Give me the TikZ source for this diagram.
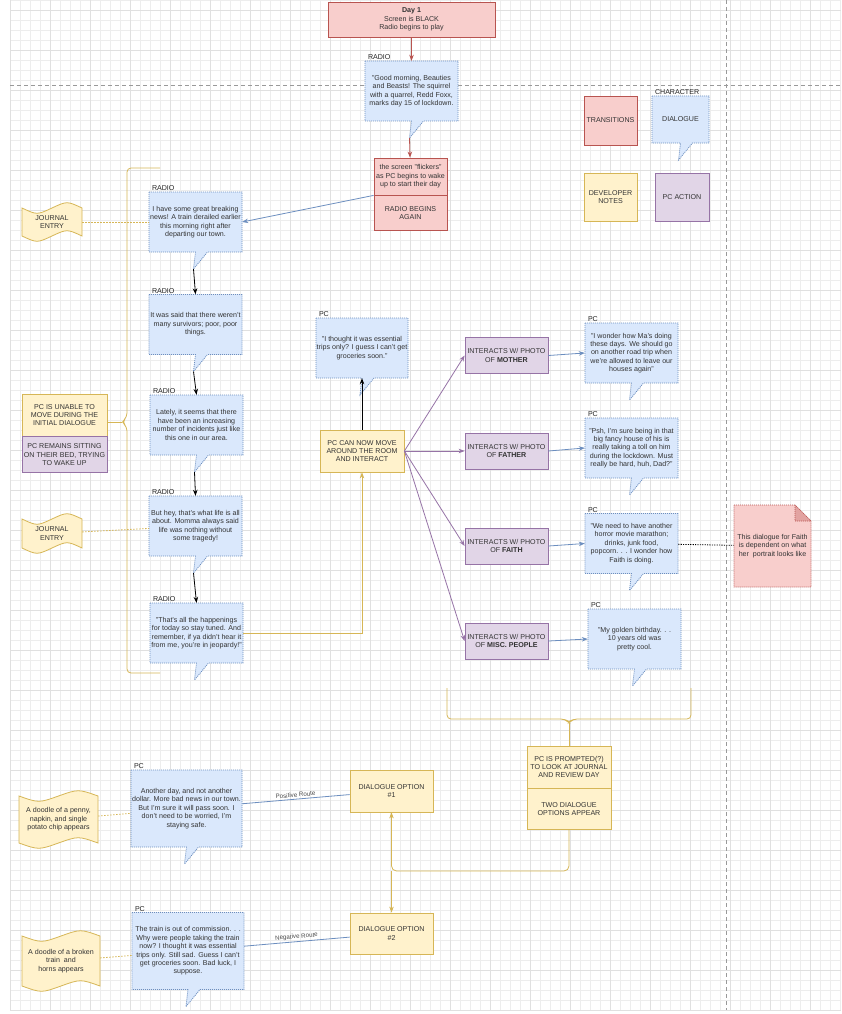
\documentclass[tikz,border=0pt]{standalone}
\usepackage{fontspec}
\setmainfont{Liberation Sans}
\usetikzlibrary{arrows.meta,calc}

\definecolor{redfill}{HTML}{F8CECC}
\definecolor{redline}{HTML}{B85450}
\definecolor{bluefill}{HTML}{DAE8FC}
\definecolor{blueline}{HTML}{6C8EBF}
\definecolor{yelfill}{HTML}{FFF2CC}
\definecolor{yelline}{HTML}{D6B656}
\definecolor{purfill}{HTML}{E1D5E7}
\definecolor{purline}{HTML}{9673A6}

\newcommand{\sm}{\fontsize{7.1}{8.4}\selectfont}

\tikzset{
  words/.style={font=\sm, align=center, inner sep=0pt, text=black!80},
  box/.style={words, draw, line width=0.8pt},
  trans/.style={box, fill=redfill, draw=redline},
  dev/.style={box, fill=yelfill, draw=yelline},
  act/.style={box, fill=purfill, draw=purline, minimum width=83, minimum height=36},
  bubble/.style={fill=bluefill, draw=blueline, line width=0.8pt, dash pattern=on 1pt off 1pt},
  sticky/.style={fill=yelfill, draw=yelline, line width=0.8pt},
  who/.style={font=\sm, anchor=south west, inner sep=1pt, xshift=2pt, text=black!85},
  tip/.style={-{Stealth[length=6pt,width=4.5pt]}},
  redarrow/.style={tip, draw=redline, line width=0.8pt},
  bluearrow/.style={tip, draw=blueline, line width=0.8pt},
  blackarrow/.style={tip, draw=black, line width=0.8pt},
  purarrow/.style={tip, draw=purline, line width=0.8pt},
  yelarrow/.style={tip, draw=yelline, line width=0.8pt},
  yelwire/.style={draw=yelline, line width=0.8pt},
  yeldash/.style={draw=yelline, line width=0.8pt, dash pattern=on 1.5pt off 1.5pt},
  route/.style={font=\fontsize{6.2}{7}\selectfont, text=black!70, inner sep=1.5pt},
  fine/.style={draw=black!7, line width=0.4pt},
  coarse/.style={draw=black!12, line width=0.4pt},
  pagebreak/.style={draw=black!40, line width=0.6pt, dash pattern=on 4pt off 3pt}
}

% speech bubble: name, cx, cy, w, h, speaker, text
\newcommand{\talk}[7]{%
  \filldraw[bubble] ({#2-#4/2},{#3-#5/2}) -- ({#2+#4/2},{#3-#5/2}) -- ({#2+#4/2},{#3+#5/2})
    -- ({#2+12},{#3+#5/2}) -- ({#2-2},{#3+#5/2+17}) -- ({#2},{#3+#5/2}) -- ({#2-#4/2},{#3+#5/2}) -- cycle;
  \node[words, minimum width=#4, minimum height=#5] (#1) at (#2,#3) {#7};
  \coordinate (#1-tip) at ({#2-2},{#3+#5/2+17});
  \node[who] at (#1.north west) {#6};
}

% wavy tape: name, left x, top y, w, h, text
\newcommand{\tape}[6]{%
  \filldraw[sticky] (#2,{#3+4}) .. controls ({#2+#4/4},{#3+11}) .. ({#2+#4/2},{#3+4})
    .. controls ({#2+3*#4/4},{#3-3}) .. ({#2+#4},{#3+4}) -- ({#2+#4},{#3+#5-4})
    .. controls ({#2+3*#4/4},{#3+#5-11}) .. ({#2+#4/2},{#3+#5-4})
    .. controls ({#2+#4/4},{#3+#5+3}) .. (#2,{#3+#5-4}) -- cycle;
  \node[words, minimum width=#4, minimum height=#5-8] (#1) at ({#2+#4/2},{#3+#5/2}) {#6};
}

\begin{document}
\begin{tikzpicture}[x=1pt,y=-1pt]
\useasboundingbox (0,0) rectangle (841,1014);
\fill[white] (0,0) rectangle (841,1014);

% grid paper
\foreach \gx in {10,20,...,840} \draw[fine] (\gx,0) -- (\gx,1010);
\foreach \gy in {0,10,...,1010} \draw[fine] (10,\gy) -- (841,\gy);
\foreach \gx in {10,50,...,810} \draw[coarse] (\gx,0) -- (\gx,1010);
\foreach \gy in {10,50,...,1010} \draw[coarse] (10,\gy) -- (841,\gy);
\draw[pagebreak] (10,85) -- (841,85);
\draw[pagebreak] (726,0) -- (726,1010);

% legend
\node[trans, minimum width=53, minimum height=49] (legtrans) at (610.5,120.5) {TRANSITIONS};
\talk{legtalk}{680.5}{119.5}{57}{47}{CHARACTER}{DIALOGUE}
\node[dev, minimum width=53, minimum height=48] (legdev) at (610.5,197) {DEVELOPER\\NOTES};
\node[act, minimum width=54, minimum height=48] (legact) at (682,197) {PC ACTION};

% opening
\node[trans, minimum width=167, minimum height=35] (day) at (411.5,19.5)
  {\textbf{Day 1}\\Screen is BLACK\\Radio begins to play};
\talk{rad0}{411.5}{91}{93}{60}{RADIO}{"Good morning, Beauties\\and Beasts! The squirrel\\with a quarrel, Redd Foxx,\\marks day 15 of lockdown.}
\node[trans, minimum width=73, minimum height=37] (wake) at (410.5,176.5)
  {the screen "flickers"\\as PC begins to wake\\up to start their day};
\node[trans, minimum width=73, minimum height=35, anchor=north] (again) at (wake.south) {RADIO BEGINS\\AGAIN};
\draw[redarrow] (day) -- (rad0);
\draw[redarrow] (rad0-tip) -- (wake);

% radio column
\talk{rad1}{195.5}{222}{93}{60}{RADIO}{I have some great breaking\\news! A train derailed earlier\\this morning right after\\departing our town.}
\talk{rad2}{195.5}{324.5}{93}{60}{RADIO}{It was said that there weren't\\many survivors; poor, poor\\things.}
\talk{rad3}{196.5}{425}{93}{60}{RADIO}{Lately, it seems that there\\have been an increasing\\number of incidents just like\\this one in our area.}
\talk{rad4}{195.5}{526}{93}{60}{RADIO}{But hey, that's what life is all\\about. Momma always said\\life was nothing without\\some tragedy!}
\talk{rad5}{196.5}{633}{93}{60}{RADIO}{"That's all the happenings\\for today so stay tuned. And\\remember, if ya didn't hear it\\from me, you're in jeopardy!"}
\draw[bluearrow] (wake.south west) -- (rad1.east);
\foreach \a/\b in {rad1/rad2, rad2/rad3, rad3/rad4, rad4/rad5}
  \draw[blackarrow] (\a-tip) -- (\b.north);

\tape{journal1}{22}{204}{60}{36}{JOURNAL\\ENTRY}
\tape{journal2}{22}{515}{60}{37}{JOURNAL\\ENTRY}
\draw[yeldash] (journal1) -- (rad1);
\draw[yeldash] (journal2) -- (rad4);

\node[dev, minimum width=85, minimum height=42] (unable) at (64.5,415) {PC IS UNABLE TO\\MOVE DURING THE\\INITIAL DIALOGUE};
\node[act, minimum width=85, minimum height=36, anchor=north] (sitting) at (unable.south) {PC REMAINS SITTING\\ON THEIR BED, TRYING\\TO WAKE UP};
\draw[yelwire, rounded corners=4] (160,168) -- (127,168) -- (127,417) -- (122,422) -- (127,427) -- (127,673) -- (160,673);
\coordinate (brace1) at (122,422);
\draw[yelwire] (brace1) -- (brace1 -| unable.east);

% room
\talk{pcq}{362}{348}{92}{60}{PC}{"I thought it was essential\\trips only? I guess I can't get\\groceries soon."}
\node[dev, minimum width=84, minimum height=42] (move) at (362,451) {PC CAN NOW MOVE\\AROUND THE ROOM\\AND INTERACT};
\draw[blackarrow] (move.north) -- (pcq.south);
\draw[yelarrow] (rad5.east) -| (move.south);

\foreach \nm/\yy/\lbl in {mother/355.5/MOTHER, father/451/FATHER, faith/546/FAITH, misc/641/MISC. PEOPLE}{
  \node[act] (\nm) at (506.5,\yy) {INTERACTS W/ PHOTO\\OF \textbf{\lbl}};
  \draw[purarrow] (move.east) -- (\nm.west);
}
\talk{pcmother}{631.5}{353}{93}{60}{PC}{"I wonder how Ma's doing\\these days. We should go\\on another road trip when\\we're allowed to leave our\\houses again"}
\talk{pcfather}{631.5}{448}{93}{60}{PC}{"Psh, I'm sure being in that\\big fancy house of his is\\really taking a toll on him\\during the lockdown. Must\\really be hard, huh, Dad?"}
\talk{pcfaith}{631.5}{543.5}{93}{60}{PC}{"We need to have another\\horror movie marathon;\\drinks, junk food,\\popcorn. . . I wonder how\\Faith is doing.}
\talk{pcmisc}{634.5}{639}{93}{60}{PC}{"My golden birthday. . .\\10 years old was\\pretty cool.}
\foreach \nm in {mother, father, faith, misc}
  \draw[bluearrow] (\nm.east) -- (pc\nm.west);

% note on faith
\filldraw[fill=redfill, draw=redline, line width=0.6pt, dash pattern=on 1pt off 1pt]
  (734,505) -- (795,505) -- (811,521) -- (811,587) -- (734,587) -- cycle;
\filldraw[fill=redline!35!redfill, draw=redline, line width=0.6pt, dash pattern=on 1pt off 1pt]
  (795,505) -- (795,521) -- (811,521) -- cycle;
\node[words, minimum width=77, minimum height=82] (note) at (772.5,546)
  {This dialogue for Faith\\is dependent on what\\her\ \ portrait looks like};
\draw[black, line width=0.8pt, dash pattern=on 1.2pt off 1.2pt] (pcfaith) -- (note);

% end of day
\draw[yelwire, rounded corners=4] (447,688) -- (447,719) -- (565,719) -- (569,723) -- (573,719) -- (691,719) -- (691,688);
\coordinate (brace2) at (569,723);
\node[dev, minimum width=84, minimum height=42] (prompt) at (569,767) {PC IS PROMPTED(?)\\TO LOOK AT JOURNAL\\AND REVIEW DAY};
\node[dev, minimum width=84, minimum height=41, anchor=north] (opts) at (prompt.south) {TWO DIALOGUE\\OPTIONS APPEAR};
\draw[yelwire] (brace2) -- (prompt.north);

\node[dev, minimum width=83, minimum height=42] (opt1) at (391.5,791) {DIALOGUE OPTION\\\#1};
\node[dev, minimum width=83, minimum height=41] (opt2) at (391.5,933.5) {DIALOGUE OPTION\\\#2};
\coordinate (split) at (391.5,871);
\draw[yelarrow, rounded corners=5] (opts.south) |- (split) -- (opt1.south);
\draw[yelarrow] (split) -- (opt2.north);

\talk{pcd1}{186.5}{808.5}{111}{77}{PC}{Another day, and not another\\dollar. More bad news in our town.\\But I'm sure it will pass soon. I\\don't need to be worried, I'm\\staying safe.}
\talk{pcd2}{188}{951}{112}{77}{PC}{The train is out of commission. . .\\Why were people taking the train\\now? I thought it was essential\\trips only. Still sad. Guess I can't\\get groceries soon. Bad luck, I\\suppose.}
\draw[draw=blueline, line width=0.8pt] (pcd1) -- node[route, sloped, above] {Positive Route} (opt1);
\draw[draw=blueline, line width=0.8pt] (pcd2) -- node[route, sloped, above] {Negative Route} (opt2);

\tape{doodle1}{19}{792}{79}{55}{A doodle of a penny,\\napkin, and single\\potato chip appears}
\tape{doodle2}{22}{932}{78}{58}{A doodle of a broken\\train\ \ and\\horns appears}
\draw[yeldash] (doodle1) -- (pcd1);
\draw[yeldash] (doodle2) -- (pcd2);
\end{tikzpicture}
\end{document}
